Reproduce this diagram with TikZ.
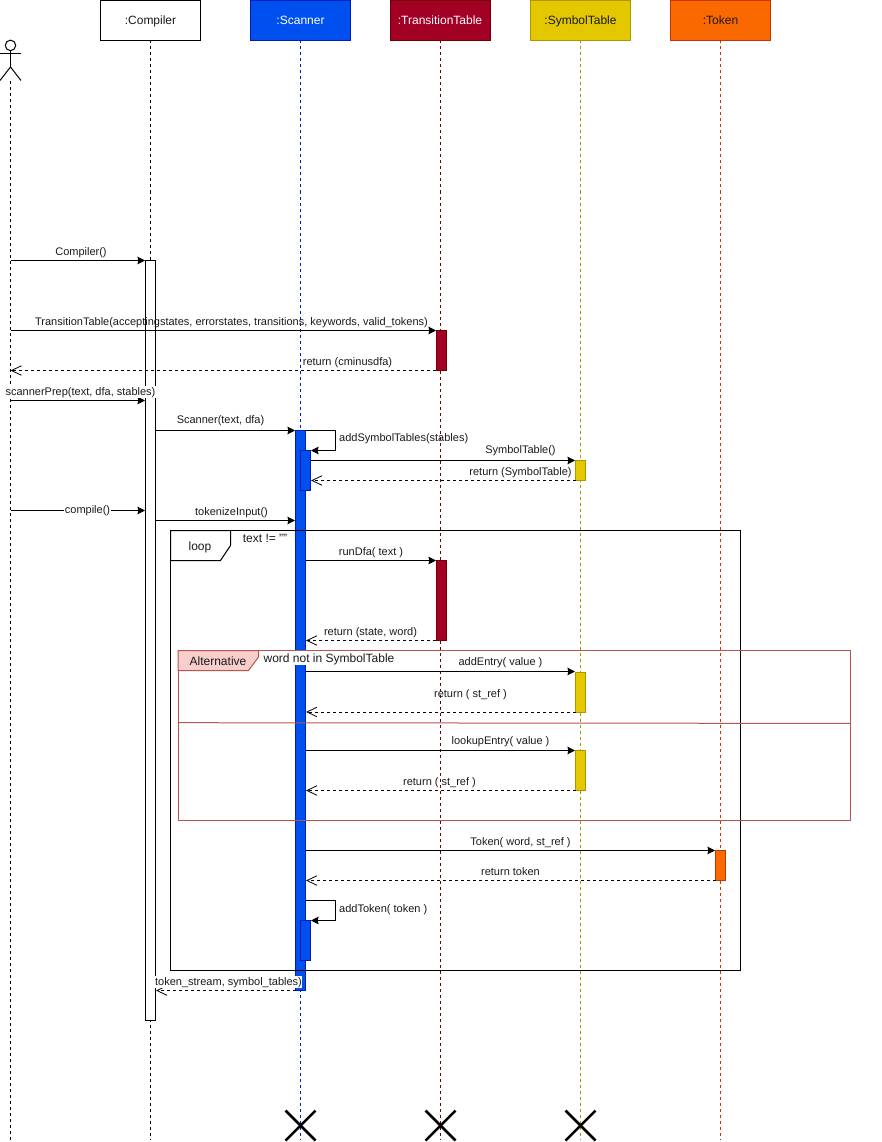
\documentclass[tikz,border=0pt]{standalone}
\usepackage{fontspec}
\setmainfont{Liberation Sans}
\usetikzlibrary{arrows.meta}
\definecolor{scanF}{HTML}{0050EF}\definecolor{scanS}{HTML}{001DBC}
\definecolor{ttF}{HTML}{A20025}\definecolor{ttS}{HTML}{6F0000}
\definecolor{symF}{HTML}{E3C800}\definecolor{symS}{HTML}{B09500}
\definecolor{tokF}{HTML}{FA6800}\definecolor{tokS}{HTML}{C73500}
\definecolor{altF}{HTML}{F8CECC}\definecolor{altS}{HTML}{B85450}
\definecolor{ink}{HTML}{1A1A1A}
\tikzset{
  base/.style={line width=1pt,line cap=butt},
  head/.style={draw,line width=1pt,minimum width=100pt,minimum height=40pt,inner sep=0pt,outer sep=0pt,anchor=center},
  headtext/.style={font=\fontsize{12}{14}\selectfont,inner sep=0pt,anchor=base,yshift=-4.5pt},
  bar/.style={draw,line width=1pt,minimum width=10pt,inner sep=0pt,outer sep=0pt,anchor=north west},
  life/.style={line width=1pt,dash pattern=on 3pt off 3pt},
  msg/.style={line width=1pt,-{Stealth[length=7.5pt,width=7.5pt,inset=0.8pt]}},
  ret/.style={line width=1pt,dash pattern=on 3pt off 3pt,-{Straight Barb[length=10pt,width=9.5pt,line width=0.8pt]}},
  lbl/.style={font=\fontsize{11}{13}\selectfont,inner sep=0pt,anchor=base,yshift=-4pt,text=ink},
  lblw/.style={lbl,fill=white,text height=9pt,text depth=3pt,inner xsep=0.5pt},
  big/.style={font=\fontsize{12}{14}\selectfont,inner sep=0pt,anchor=base,yshift=-4.5pt,text=ink},
  xmark/.style={line width=2.5pt,line cap=butt},
}
\begin{document}
\begin{tikzpicture}[x=1pt,y=-1pt]
\useasboundingbox (0,0) rectangle (881,1142);
% heads
\node[head] (compiler) at (150.5,20.5) {};
\node[head,fill=scanF,draw=scanS] (scanner) at (300.5,20.5) {};
\node[head,fill=ttF,draw=ttS] (tt) at (440.5,20.5) {};
\node[head,fill=symF,draw=symS] (sym) at (580.5,20.5) {};
\node[head,fill=tokF,draw=tokS] (tok) at (720.5,20.5) {};
\node[headtext,text=ink] (compilerT) at (150.5,20.5) {:Compiler};
\node[headtext,text=white] (scannerT) at (300.5,20.5) {:Scanner};
\node[headtext,text=white] (ttT) at (440,20.5) {:TransitionTable};
\node[headtext,text=ink] (symT) at (580.5,20.5) {:SymbolTable};
\node[headtext,text=ink] (tokT) at (720.5,20.5) {:Token};
% actor
\node[circle,draw,line width=1pt,minimum size=10.5pt,inner sep=0pt,outer sep=0pt] (actor) at (10.5,45.4) {};
\coordinate (actorArmL) at (0,53.5);
\coordinate (actorArmR) at (21,53.5);
\coordinate (actorHip) at (10.5,67);
\coordinate (actorLegL) at (0,80.5);
\coordinate (actorLegR) at (21,80.5);
\draw[base] (actor.south) -- (actorHip);
\draw[base] (actorArmL) -- (actorArmR);
\draw[base] (actorLegL) -- (actorHip) -- (actorLegR);
% lifeline ends
\coordinate (actorTop) at (10.5,81);
\coordinate (actorEnd) at (10.5,1140);
\coordinate (compilerEnd) at (150.5,1140);
\coordinate (scannerEnd) at (300.5,1140);
\coordinate (ttEnd) at (440.5,1140);
\coordinate (symEnd) at (580.5,1140);
\coordinate (tokEnd) at (720.5,1140);
\draw[life] (actorTop) -- (actorEnd);
\draw[life] (compiler.south) -- (compilerEnd);
\draw[life,scanS] (scanner.south) -- (scannerEnd);
\draw[life,ttS] (tt.south) -- (ttEnd);
\draw[life,symS] (sym.south) -- (symEnd);
\draw[life,tokS] (tok.south) -- (tokEnd);
% crosses
\foreach \n/\c in {xa/300.5,xb/440.5,xc/580.5}{
  \draw[xmark] (\c-15,1110.5) -- (\c+15,1140.5);
  \draw[xmark] (\c+15,1110.5) -- (\c-15,1140.5);
}
% activation bars
\node[bar,fill=white,minimum height=760pt] (acomp) at (145.5,260.5) {};
\node[bar,fill=scanF,draw=scanS,minimum height=560pt] (ascan) at (295.5,430.5) {};
\node[bar,fill=scanF,draw=scanS,minimum height=40pt] (ascanA) at (300.5,450.5) {};
\node[bar,fill=scanF,draw=scanS,minimum height=40pt] (ascanB) at (300.5,920.5) {};
\node[bar,fill=ttF,draw=ttS,minimum height=40pt] (attA) at (436.5,330.5) {};
\node[bar,fill=ttF,draw=ttS,minimum height=80pt] (attB) at (436.5,560.5) {};
\node[bar,fill=symF,draw=symS,minimum height=20pt] (asymA) at (575.5,460.5) {};
\node[bar,fill=symF,draw=symS,minimum height=40pt] (asymB) at (575.5,672) {};
\node[bar,fill=symF,draw=symS,minimum height=40pt] (asymC) at (575.5,750.5) {};
\node[bar,fill=tokF,draw=tokS,minimum height=30pt] (atok) at (715.5,850.5) {};
% frames
\draw[base] (170.5,530.5) rectangle (740.5,970.5);
\draw[base,fill=white] (170.5,530.5) -- (230.5,530.5) -- (230.5,545.5) -- (220.5,560.5) -- (170.5,560.5) -- cycle;
\node[big] (loopL) at (200,545.5) {loop};
\node[big] (loopC) at (265,537.5) {text != ""};
\draw[base,altS] (178,650.5) rectangle (850,820.5);
\draw[base,altS,fill=altF] (178,650.5) -- (258.5,650.5) -- (258.5,657) -- (248.5,670.5) -- (178,670.5) -- cycle;
\draw[base,altS] (178,722.7) -- (850,723.4);
\node[big] (altL) at (218,661) {Alternative};
\node[big,fill=white,text height=11pt,text depth=3pt,inner xsep=0.5pt] (altC) at (329,657.5) {word not in SymbolTable};
% message ends
\foreach \n/\x/\y in {
 a1/10.5/260.5, b1/145/260.5, a2/10.5/330.5, b2/436/330.5,
 a3/436/370.5, b3/10.5/370.5, a4/10.5/400.5, b4/145/400.5,
 a5/155.5/430.5, b5/295/430.5,
 a6/305.5/430.5, c6/335.5/430.5, d6/335.5/450.5, b6/311/450.5,
 a7/311/460.5, b7/575/460.5, a8/575.5/480.5, b8/311/480.5,
 a9/10.5/510.5, b9/145/510.5, a10/155.5/520.5, b10/295/520.5,
 a11/305.5/560.5, b11/436/560.5, a12/436/640.5, b12/306/640.5,
 a13/305.5/671.5, b13/575/671.5, a14/575.5/712, b14/306/712,
 a15/305.5/750.5, b15/575/750.5, a16/575.5/790.5, b16/306/790.5,
 a17/305.5/850.5, b17/715/850.5, a18/715.5/880.5, b18/306/880.5,
 a19/305.5/900.5, c19/335.5/900.5, d19/335.5/920.5, b19/311/920.5,
 a20/295.5/990.5, b20/156/990.5}{\coordinate (\n) at (\x,\y);}
\draw[msg] (a1) -- (b1);
\draw[msg] (a2) -- (b2);
\draw[ret] (a3) -- (b3);
\draw[msg] (a4) -- (b4);
\draw[msg] (a5) -- (b5);
\draw[msg] (a6) -- (c6) -- (d6) -- (b6);
\draw[msg] (a7) -- (b7);
\draw[ret] (a8) -- (b8);
\draw[msg] (a9) -- (b9);
\draw[msg] (a10) -- (b10);
\draw[msg] (a11) -- (b11);
\draw[ret] (a12) -- (b12);
\draw[msg] (a13) -- (b13);
\draw[ret] (a14) -- (b14);
\draw[msg] (a15) -- (b15);
\draw[ret] (a16) -- (b16);
\draw[msg] (a17) -- (b17);
\draw[ret] (a18) -- (b18);
\draw[msg] (a19) -- (c19) -- (d19) -- (b19);
\draw[ret] (a20) -- (b20);
% labels
\node[lbl] (l1) at (81,251) {Compiler()};
\node[lbl] (l2) at (231.5,321) {TransitionTable(acceptingstates, errorstates, transitions, keywords, valid\_tokens)};
\node[lbl] (l3) at (347.5,361) {return (cminusdfa)};
\node[lblw] (l4) at (80.5,391) {scannerPrep(text, dfa, stables)};
\node[lbl] (l5) at (220.5,419) {Scanner(text, dfa)};
\node[lbl,anchor=base west] (l6) at (339,437.5) {addSymbolTables(stables)};
\node[lbl] (l7) at (520.5,449) {SymbolTable()};
\node[lbl] (l8) at (520.5,471) {return (SymbolTable)};
\node[lblw] (l9) at (87.5,509) {compile()};
\node[lbl] (l10) at (231.5,511) {tokenizeInput()};
\node[lbl] (l11) at (371,551) {runDfa( text )};
\node[lbl] (l12) at (370.5,631) {return (state, word)};
\node[lbl] (l13) at (500.5,661) {addEntry( value )};
\node[lbl] (l14) at (470.5,693) {return ( st\_ref )};
\node[lbl] (l15) at (500.5,740) {lookupEntry( value )};
\node[lbl] (l16) at (439.5,781) {return ( st\_ref )};
\node[lbl] (l17) at (520.5,841) {Token( word, st\_ref )};
\node[lbl] (l18) at (510.5,871) {return token};
\node[lbl,anchor=base west] (l19) at (339,908) {addToken( token )};
\node[lblw] (l20) at (228.5,981) {token\_stream, symbol\_tables)};
\end{tikzpicture}
\end{document}
